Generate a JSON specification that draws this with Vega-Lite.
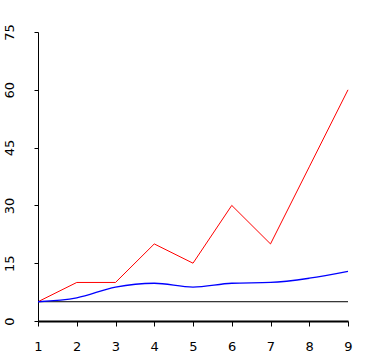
{
  "$schema": "https://vega.github.io/schema/vega-lite/v6.json",
  "width": 310,
  "height": 289,
  "autosize": "none",
  "padding": {"left": 38, "top": 32, "right": 17, "bottom": 40},
  "background": "white",
  "config": {"view": {"stroke": null}},
  "data": {
    "values": [
      {"x": 1, "y": 5, "s": "red"}, {"x": 2, "y": 10, "s": "red"}, {"x": 3, "y": 10, "s": "red"},
      {"x": 4, "y": 20, "s": "red"}, {"x": 5, "y": 15, "s": "red"}, {"x": 6, "y": 30, "s": "red"},
      {"x": 7, "y": 20, "s": "red"}, {"x": 8, "y": 40, "s": "red"}, {"x": 9, "y": 60, "s": "red"},
      {"x": 1, "y": 5, "s": "blue"}, {"x": 2, "y": 6, "s": "blue"}, {"x": 3, "y": 8.8, "s": "blue"},
      {"x": 4, "y": 9.8, "s": "blue"}, {"x": 5, "y": 8.8, "s": "blue"}, {"x": 6, "y": 9.8, "s": "blue"},
      {"x": 7, "y": 10, "s": "blue"}, {"x": 8, "y": 11.1, "s": "blue"}, {"x": 9, "y": 12.9, "s": "blue"},
      {"x": 1, "y": 5, "s": "black"}, {"x": 9, "y": 5, "s": "black"}
    ]
  },
  "encoding": {
    "x": {
      "field": "x", "type": "quantitative",
      "scale": {"domain": [1, 9], "nice": false, "zero": false},
      "axis": {
        "title": null, "values": [1,2,3,4,5,6,7,8,9], "grid": false,
        "domainColor": "black", "domainWidth": 2, "tickColor": "black", "tickSize": 5,
        "labelFont": "DejaVu Sans", "labelFontSize": 13, "labelColor": "black",
        "labelPadding": 14, "labelFlush": false
      }
    },
    "y": {
      "field": "y", "type": "quantitative",
      "scale": {"domain": [0, 75], "nice": false},
      "axis": {
        "title": null, "values": [0, 15, 30, 45, 60, 75], "grid": false,
        "domainColor": "black", "tickColor": "black", "tickSize": 4,
        "labelFont": "DejaVu Sans", "labelFontSize": 13, "labelColor": "black",
        "labelAngle": -90, "labelAlign": "center", "labelBaseline": "bottom",
        "labelPadding": 18, "labelFlush": false
      }
    },
    "color": {
      "field": "s", "type": "nominal",
      "scale": {"domain": ["red", "blue", "black"], "range": ["#ff0000", "#0000ff", "#000000"]},
      "legend": null
    }
  },
  "layer": [
    {
      "transform": [{"filter": "datum.s !== 'blue'"}],
      "mark": {"type": "line", "strokeWidth": 1, "interpolate": "linear"}
    },
    {
      "transform": [{"filter": "datum.s === 'blue'"}],
      "mark": {"type": "line", "strokeWidth": 1.3, "interpolate": "monotone"}
    }
  ]
}
